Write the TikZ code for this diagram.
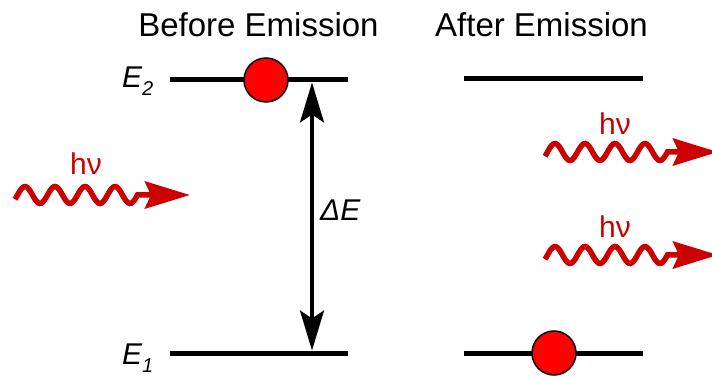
\documentclass[tikz,border=0pt]{standalone}
\usepackage{fontspec}
\setmainfont{Liberation Sans}
\usetikzlibrary{arrows.meta}
\definecolor{photonred}{RGB}{204,0,0}
\begin{document}
\begin{tikzpicture}[x=1pt,y=-1pt,
 level/.style={line width=5pt},
 ball/.style={circle, draw=black, line width=1.5pt, fill=red, minimum size=44pt, inner sep=0pt},
 photon/.style={draw=photonred, line width=5.5pt, -{Stealth[length=45pt,width=27pt,inset=6pt]}},
 title/.style={font=\fontsize{33}{33}\selectfont, anchor=base, inner sep=0pt},
 hv/.style={font=\fontsize{30}{30}\selectfont, text=photonred, anchor=base, inner sep=0pt},
 elabel/.style={font=\fontsize{30}{30}\selectfont\itshape, anchor=base west, inner sep=0pt},
 gap/.style={line width=3.5pt, {Stealth[length=40pt,width=24pt,inset=8pt]}-{Stealth[length=40pt,width=24pt,inset=8pt]}}
]
\useasboundingbox (0,0) rectangle (712,379);
\clip (0,0) rectangle (712,379);

% titles
\node[title] (tb) at (258.5,37) {Before Emission};
\node[title] (ta) at (541.5,37) {After Emission};

% energy levels, before
\coordinate (b2l) at (170,80);
\coordinate (b2r) at (348,80);
\coordinate (b1l) at (170,353);
\coordinate (b1r) at (348,353);
\draw[level] (b2l) -- (b2r);
\draw[level] (b1l) -- (b1r);
\node[ball] (eb) at (266,80) {};

% energy levels, after
\coordinate (a2l) at (464,79);
\coordinate (a2r) at (643,79);
\coordinate (a1l) at (464,353);
\coordinate (a1r) at (643,353);
\draw[level] (a2l) -- (a2r);
\draw[level] (a1l) -- (a1r);
\node[ball] (ea) at (554,353) {};

% labels
\node[elabel] (e2) at (122,88) {E\raisebox{-8pt}{\fontsize{20}{20}\selectfont 2}};
\node[elabel] (e1) at (122,364) {E\raisebox{-8pt}{\fontsize{20}{20}\selectfont 1}};

% energy gap arrow
\coordinate (gt) at (312,82.5);
\coordinate (gb) at (312,350.5);
\draw[gap] (gt) -- (gb);
\node[elabel] (de) at (320,221) {ΔE};

% incoming photon
\coordinate (p0) at (190,195);
\draw[photon] plot[domain=15:137.5, samples=80, smooth] (\x,{195-8.5*cos(12*(\x-25))}) -- (p0);
\node[hv] (h0) at (86,175) {hν};

% emitted photons
\coordinate (p1) at (718,152);
\draw[photon] plot[domain=545:667.5, samples=80, smooth] (\x,{152-8.5*cos(12*(\x-555))}) -- (p1);
\node[hv] (h1) at (615,135) {hν};

\coordinate (p2) at (718,255);
\draw[photon] plot[domain=545:667.5, samples=80, smooth] (\x,{255-8.5*cos(12*(\x-555))}) -- (p2);
\node[hv] (h2) at (615,238) {hν};
\end{tikzpicture}
\end{document}
